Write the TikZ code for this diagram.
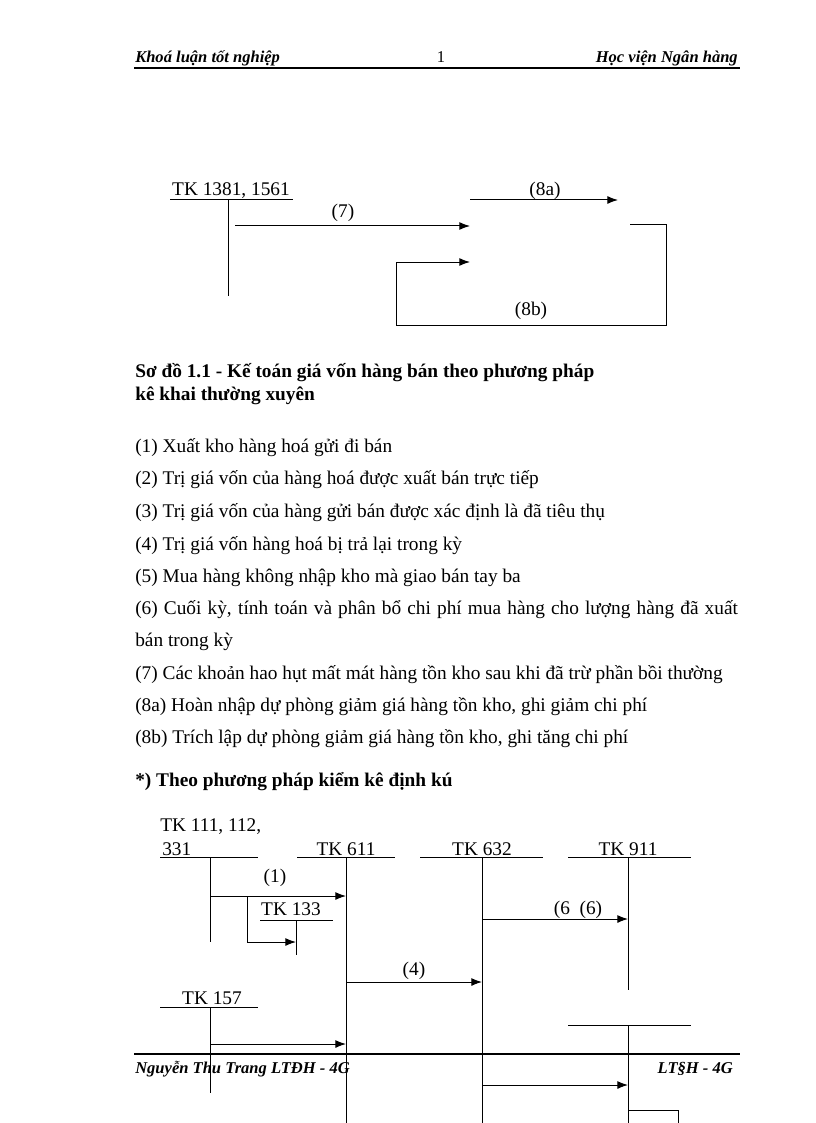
\documentclass[tikz,border=0pt]{standalone}
\usepackage{fontspec}
\setmainfont{Liberation Serif}
\usepackage{tikz}
\usetikzlibrary{arrows.meta}
\tikzstyle{txt} = [inner sep=0pt, anchor=base west, font=\fontsize{14.5}{17}\selectfont]
\tikzstyle{lbl} = [inner sep=0pt, anchor=base, font=\fontsize{14.5}{17}\selectfont]
\tikzstyle{bold} = [inner sep=0pt, anchor=base west, font=\fontsize{14.5}{17}\selectfont\bfseries]
\tikzstyle{head} = [inner sep=0pt, anchor=base west, font=\fontsize{12.4}{15}\selectfont\bfseries\itshape]
\tikzstyle{acct} = [line width=0.75pt]
\tikzstyle{arrow} = [line width=0.75pt,-{Latex[length=8pt,width=6pt]}]
\tikzstyle{rule} = [line width=1.6pt]

\begin{document}
\begin{tikzpicture}[x=0.75pt, y=-0.75pt]
    \useasboundingbox (0,0) rectangle (816,1123);
    \node (hleft) [head] at (135,63) {Khoá luận tốt nghiệp};
    \node (hpage) [lbl, font=\fontsize{12.4}{15}\selectfont] at (441,63) {1};
    \node (hright) [head, anchor=base east] at (738,63) {Học viện Ngân hàng};
    \coordinate (hr1) at (134,68);
    \coordinate (hr2) at (740,68);
    \draw [rule] (hr1) -- (hr2);

    \node (tk1381) [lbl] at (231,196) {TK 1381, 1561};
    \coordinate (t1a) at (170,200);
    \coordinate (t1b) at (293,200);
    \coordinate (t1c) at (228,200);
    \coordinate (t1d) at (228,296);
    \draw [acct] (t1a) -- (t1b);
    \draw [acct] (t1c) -- (t1d);
    \coordinate (s7) at (235,226);
    \coordinate (e7) at (470,226);
    \draw [arrow] (s7) -- (e7);
    \node (l7) [lbl] at (343,218) {(7)};
    \coordinate (s8a) at (470,200);
    \coordinate (e8a) at (618,200);
    \draw [arrow] (s8a) -- (e8a);
    \node (l8a) [lbl] at (545,196) {(8a)};
    \coordinate (b1) at (630,225);
    \coordinate (b2) at (666,325);
    \coordinate (b3) at (396,262);
    \coordinate (b4) at (470,262);
    \draw [arrow] (b1) -| (b2) -| (b3) -- (b4);
    \node (l8b) [lbl] at (531,315) {(8b)};

    \node (cap1) [bold] at (135,377) {Sơ đồ 1.1 - Kế toán giá vốn hàng bán theo phương pháp};
    \node (cap2) [bold] at (135,400) {kê khai thường xuyên};

    \node (i1) [txt] at (135,452) {(1) Xuất kho hàng hoá gửi đi bán};
    \node (i2) [txt] at (135,484) {(2) Trị giá vốn của hàng hoá được xuất bán trực tiếp};
    \node (i3) [txt] at (135,517) {(3) Trị giá vốn của hàng gửi bán được xác định là đã tiêu thụ};
    \node (i4) [txt] at (135,550) {(4) Trị giá vốn hàng hoá bị trả lại trong kỳ};
    \node (i5) [txt] at (135,582) {(5) Mua hàng không nhập kho mà giao bán tay ba};
    \node (i6) [txt] at (135,614) {\makebox[452pt][s]{(6) Cuối kỳ, tính toán và phân bổ chi phí mua hàng cho lượng hàng đã xuất}};
    \node (i6b) [txt] at (135,646) {bán trong kỳ};
    \node (i7) [txt] at (135,679) {(7) Các khoản hao hụt mất mát hàng tồn kho sau khi đã trừ phần bồi thường};
    \node (i8a) [txt] at (135,711) {(8a) Hoàn nhập dự phòng giảm giá hàng tồn kho, ghi giảm chi phí};
    \node (i8b) [txt] at (135,743) {(8b) Trích lập dự phòng giảm giá hàng tồn kho, ghi tăng chi phí};
    \node (sect) [bold] at (135,786) {*) Theo phương pháp kiểm kê định kú};

    \node (tk111) [txt] at (160,831) {TK 111, 112,};
    \node (tk331) [txt] at (162,855) {331};
    \node (tk611) [lbl] at (346,855) {TK 611};
    \node (tk632) [lbl] at (482,855) {TK 632};
    \node (tk911) [lbl] at (628,855) {TK 911};
    \coordinate (u1a) at (160,857);
    \coordinate (u1b) at (258,857);
    \coordinate (u2a) at (297,857);
    \coordinate (u2b) at (395,857);
    \coordinate (u3a) at (420,857);
    \coordinate (u3b) at (543,857);
    \coordinate (u4a) at (568,857);
    \coordinate (u4b) at (691,857);
    \draw [acct] (u1a) -- (u1b);
    \draw [acct] (u2a) -- (u2b);
    \draw [acct] (u3a) -- (u3b);
    \draw [acct] (u4a) -- (u4b);
    \coordinate (v1a) at (210,857);
    \coordinate (v1b) at (210,942);
    \coordinate (v2a) at (346,857);
    \coordinate (v2b) at (346,1123);
    \coordinate (v3a) at (482,857);
    \coordinate (v3b) at (482,1123);
    \coordinate (v4a) at (628,857);
    \coordinate (v4b) at (628,990);
    \draw [acct] (v1a) -- (v1b);
    \draw [acct] (v2a) -- (v2b);
    \draw [acct] (v3a) -- (v3b);
    \draw [acct] (v4a) -- (v4b);

    \coordinate (s1) at (210,896);
    \coordinate (e1) at (346,896);
    \draw [arrow] (s1) -- (e1);
    \node (l1) [lbl] at (275,882) {(1)};
    \coordinate (c1) at (247,896);
    \coordinate (c2) at (296,942);
    \draw [arrow] (c1) |- (c2);
    \node (tk133) [lbl] at (291,915) {TK 133};
    \coordinate (w1a) at (260,920);
    \coordinate (w1b) at (333,920);
    \coordinate (w1c) at (296,920);
    \coordinate (w1d) at (296,955);
    \draw [acct] (w1a) -- (w1b);
    \draw [acct] (w1c) -- (w1d);
    \coordinate (s6) at (482,919);
    \coordinate (e6) at (628,919);
    \draw [arrow] (s6) -- (e6);
    \node (l6) [lbl] at (578,914) {(6\ \ (6)};
    \coordinate (s4) at (346,982);
    \coordinate (e4) at (482,982);
    \draw [arrow] (s4) -- (e4);
    \node (l4) [lbl] at (414,975) {(4)};

    \node (tk157) [lbl] at (212,1004) {TK 157};
    \coordinate (k1a) at (160,1007);
    \coordinate (k1b) at (258,1007);
    \coordinate (k1c) at (210,1007);
    \coordinate (k1d) at (210,1093);
    \draw [acct] (k1a) -- (k1b);
    \draw [acct] (k1c) -- (k1d);
    \coordinate (s157) at (210,1044);
    \coordinate (e157) at (346,1044);
    \draw [arrow] (s157) -- (e157);
    \coordinate (m1a) at (568,1025);
    \coordinate (m1b) at (691,1025);
    \coordinate (m1c) at (628,1025);
    \coordinate (m1d) at (628,1123);
    \draw [acct] (m1a) -- (m1b);
    \draw [acct] (m1c) -- (m1d);
    \coordinate (s632) at (482,1085);
    \coordinate (e632) at (628,1085);
    \draw [arrow] (s632) -- (e632);
    \coordinate (n1) at (628,1110);
    \coordinate (n2) at (678,1123);
    \draw [acct] (n1) -| (n2);

    \coordinate (fr1) at (134,1054);
    \coordinate (fr2) at (740,1054);
    \draw [rule] (fr1) -- (fr2);
    \node (fleft) [head] at (135,1073) {Nguyễn Thu Trang LTĐH - 4G};
    \node (fright) [head, anchor=base east] at (733,1073) {LT§H - 4G};
\end{tikzpicture}
\end{document}
